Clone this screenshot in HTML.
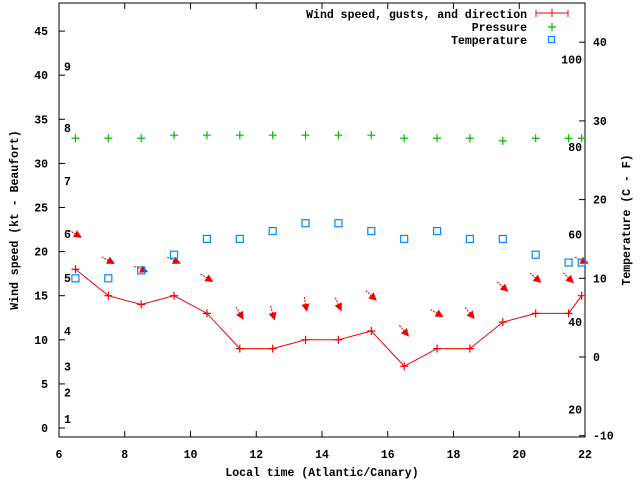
<!DOCTYPE html>
<html><head><meta charset="utf-8"><style>
html,body{margin:0;padding:0;background:#fff}
svg{display:block}
text{font-family:"Liberation Mono",monospace;font-weight:bold;font-size:11.5px;fill:#000}
</style></head><body>
<svg id="chart" width="640" height="480" viewBox="0 0 640 480" xmlns="http://www.w3.org/2000/svg">
<g id="axes"></g>
<g id="series"></g>
<text x="322" y="476" text-anchor="middle">Local time (Atlantic/Canary)</text>
<text transform="translate(18,220) rotate(-90)" text-anchor="middle">Wind speed (kt - Beaufort)</text>
<text transform="translate(630,220) rotate(-90)" text-anchor="middle">Temperature (C - F)</text>
<g>
<text x="527" y="18" text-anchor="end">Wind speed, gusts, and direction</text>
<line x1="536" y1="13" x2="568" y2="13" stroke="#e00" stroke-width="1"/>
<line x1="536" y1="10" x2="536" y2="17" stroke="#e00"/><line x1="568" y1="10" x2="568" y2="17" stroke="#e00"/>
<line x1="552" y1="9" x2="552" y2="17" stroke="#e00"/>
<text x="527" y="31" text-anchor="end">Pressure</text>
<path d="M548 27h8M552 23v8" stroke="#0b0" stroke-width="1.2"/>
<text x="527" y="44" text-anchor="end">Temperature</text>
<rect x="548.5" y="36.5" width="6" height="6" fill="none" stroke="#08f" stroke-width="1.2"/>
</g>
</svg>
<script>
const hours = [6.5,7.5,8.5,9.5,10.5,11.5,12.5,13.5,14.5,15.5,16.5,17.5,18.5,19.5,20.5,21.5,21.9];
const windSpeed = [18,15,14,15,13,9,9,10,10,11,7,9,9,12,13,13,15];
const gusts = [22,19,18,19,17,13,13,14,14,15,11,13,13,16,17,17,19];
const arrowAngle = [30,27,23,25,32,60,74,80,65,42,50,30,50,42,40,45,25];
const pressure = [82,82,82,82.7,82.7,82.7,82.7,82.7,82.7,82.7,82,82,82,81.4,82,82,82];
const temperature = [10,10,11,13,15,15,16,17,17,16,15,16,15,15,13,12,12];
const xTicks = [6,8,10,12,14,16,18,20,22];
const yTicks = [0,5,10,15,20,25,30,35,40,45];
const y2Ticks = [-10,0,10,20,30,40];
const beaufortLimits = [1,4,7,11,17,22,28,34,41];
const beaufortLabels = ["1","2","3","4","5","6","7","8","9"];
const fTicks = [20,40,60,80,100];

const L=59,R=585,T=3,B=437;
const X = h => L + (h-6)*(R-L)/16;
const Y = v => 428 - v*8.82;
const Y2 = t => 357 - t*7.87;
const Yp = p => 147 - (p-80)*4.375;
const NS="http://www.w3.org/2000/svg";
function mk(tag, attrs, parent){const e=document.createElementNS(NS,tag);for(const k in attrs)e.setAttribute(k,attrs[k]);parent.appendChild(e);return e;}
const ax=document.getElementById('axes'), se=document.getElementById('series');

const frame=mk('rect',{x:L,y:T,width:R-L,height:B-T,fill:'none',stroke:'#000','stroke-width':1},ax);


xTicks.forEach(h=>{
  const x=X(h);
  mk('line',{x1:x,y1:B,x2:x,y2:B-6,stroke:'#000'},ax);
  mk('line',{x1:x,y1:T,x2:x,y2:T+6,stroke:'#000'},ax);
  const t=mk('text',{x:x,y:458,'text-anchor':'middle'},ax);t.textContent=h;
  
  
});
yTicks.forEach(v=>{
  const y=Y(v);
  mk('line',{x1:L,y1:y,x2:L+6,y2:y,stroke:'#000'},ax);
  const t=mk('text',{x:48,y:y+4,'text-anchor':'end'},ax);t.textContent=v;
  
  
});
y2Ticks.forEach(v=>{
  const y=Y2(v);
  mk('line',{x1:R,y1:y,x2:R-6,y2:y,stroke:'#000'},ax);
  const t=mk('text',{x:593,y:y+4},ax);t.textContent=v;
  
  
});
beaufortLimits.forEach((v,i)=>{
  const t=mk('text',{x:64,y:Y(v)+4},ax);t.textContent=beaufortLabels[i];
  
  
});
fTicks.forEach(f=>{
  const c=(f-32)*5/9;
  const t=mk('text',{x:582,y:Y2(c)+4,'text-anchor':'end'},ax);t.textContent=f;
  
  
});

const pts=hours.map((h,i)=>X(h)+','+Y(windSpeed[i])).join(' ');
const wl=mk('polyline',{points:pts,fill:'none',stroke:'#e00','stroke-width':1},se);


hours.forEach((h,i)=>{
  const x=X(h),y=Y(windSpeed[i]);
  const m=mk('path',{d:`M${x-4} ${y}h8M${x} ${y-4}v8`,stroke:'#e00','stroke-width':1.2},se);
  
  
  const cy=Y(gusts[i]),a=arrowAngle[i]*Math.PI/180,dx=Math.cos(a)*7.5,dy=Math.sin(a)*7.5;
  const g=mk('g',{},se);
  
  
  mk('line',{x1:x-dx,y1:cy-dy,x2:x+dx,y2:cy+dy,stroke:'#e00','stroke-width':1,'stroke-dasharray':'2 1'},g);
  const hx=x+dx,hy=cy+dy,ux=Math.cos(a),uy=Math.sin(a);
  mk('path',{d:`M${hx} ${hy}L${hx-ux*8-uy*4} ${hy-uy*8+ux*4}L${hx-ux*8+uy*4} ${hy-uy*8-ux*4}Z`,fill:'#e00'},g);
  const px=X(h),py=Yp(pressure[i]);
  const p=mk('path',{d:`M${px-4} ${py}h8M${px} ${py-4}v8`,stroke:'#0b0','stroke-width':1.2},se);
  
  
  const ty=Y2(temperature[i]);
  const r=mk('rect',{x:X(h)-3.5,y:ty-3.5,width:7,height:7,fill:'none',stroke:'#08f','stroke-width':1.2},se);
  
  
});
</script>
</body></html>
